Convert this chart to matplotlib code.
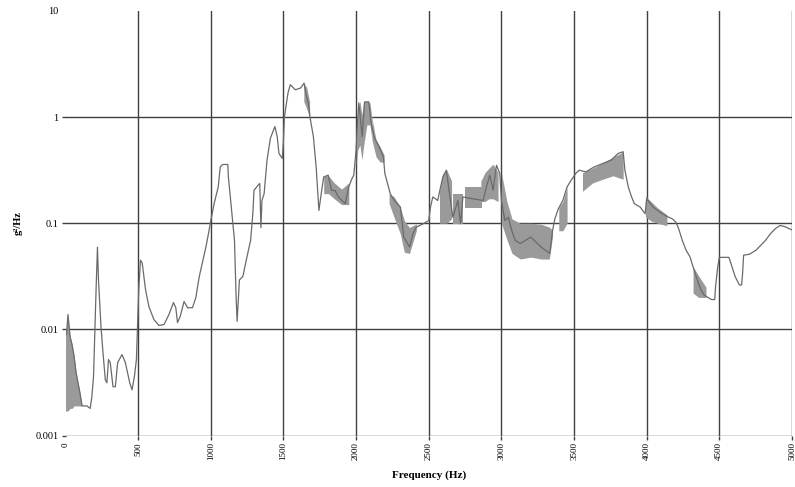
import matplotlib
matplotlib.use("Agg")
import matplotlib.pyplot as plt

# ---- main traced spectrum (Hz, g^2/Hz) ----
freq = [7, 17, 31, 45, 59, 73, 87, 100, 114, 147, 170, 181, 193, 199, 211, 220, 227, 244,
        258, 274, 285, 296, 308, 327, 343, 359, 389, 412, 442, 458, 474, 488, 497, 504, 516,
        528, 551, 574, 608, 643, 678, 712, 743, 759, 771, 789, 816, 840, 874, 897, 920, 943,
        966, 988, 1000, 1023, 1051, 1065, 1082, 1117, 1121, 1139, 1163, 1174, 1181, 1197,
        1221, 1244, 1274, 1290, 1297, 1325, 1337, 1345, 1352, 1367, 1387, 1410, 1441, 1457,
        1469, 1492, 1499, 1507, 1531, 1547, 1582, 1618, 1642, 1654, 1673, 1682, 1706, 1725,
        1737, 1744, 1760, 1777, 1808, 1831, 1855, 1878, 1902, 1926, 1949, 1972, 1984, 2000,
        2012, 2019, 2042, 2058, 2088, 2100, 2123, 2158, 2188, 2198, 2216, 2235, 2263, 2305,
        2328, 2368, 2391, 2414, 2460, 2500, 2512, 2528, 2562, 2574, 2597, 2621, 2643, 2666,
        2701, 2719, 2735, 2802, 2874, 2897, 2920, 2943, 2966, 2989, 3000, 3024, 3047, 3071,
        3095, 3130, 3202, 3273, 3333, 3352, 3368, 3392, 3423, 3452, 3480, 3511, 3535, 3581,
        3640, 3698, 3756, 3803, 3838, 3850, 3873, 3896, 3915, 3955, 3989, 4000, 4043, 4107,
        4139, 4177, 4202, 4220, 4245, 4271, 4298, 4319, 4341, 4373, 4394, 4411, 4446, 4468,
        4474, 4489, 4500, 4566, 4587, 4609, 4638, 4653, 4660, 4667, 4708, 4752, 4785, 4818,
        4851, 4884, 4917, 4950, 4982, 5000]
psd = [0.0090, 0.0138, 0.0086, 0.0072, 0.0056, 0.0039, 0.0031, 0.0025, 0.0019, 0.0019,
       0.0018, 0.0023, 0.0036, 0.0069, 0.0252, 0.0594, 0.0292, 0.0107, 0.00605, 0.00335,
       0.00314, 0.00519, 0.00486, 0.00288, 0.00288, 0.00486, 0.00579, 0.00486, 0.00314,
       0.00269, 0.00358, 0.00519, 0.0124, 0.0236, 0.0449, 0.0421, 0.0236, 0.0164, 0.0124,
       0.0109, 0.0111, 0.0138, 0.0179, 0.0160, 0.0116, 0.0132, 0.0183, 0.0160, 0.0160,
       0.0199, 0.0312, 0.0431, 0.0594, 0.0855, 0.106, 0.153, 0.220, 0.340, 0.358, 0.358,
       0.273, 0.153, 0.0690, 0.0204, 0.0119, 0.0292, 0.0316, 0.0449, 0.0690, 0.127, 0.204,
       0.228, 0.237, 0.091, 0.164, 0.190, 0.394, 0.632, 0.815, 0.655, 0.455, 0.408, 0.566,
       1.01, 1.68, 2.02, 1.81, 1.88, 2.09, 1.68, 1.31, 1.01, 0.655, 0.340, 0.190, 0.132,
       0.190, 0.273, 0.284, 0.204, 0.204, 0.177, 0.164, 0.153, 0.220, 0.264, 0.284, 0.490,
       1.01, 1.36, 0.655, 1.39, 1.39, 0.942, 0.655, 0.526, 0.423, 0.294, 0.237, 0.190,
       0.164, 0.142, 0.0741, 0.0597, 0.0796, 0.0918, 0.0986, 0.106, 0.142, 0.177, 0.164,
       0.197, 0.273, 0.316, 0.190, 0.114, 0.164, 0.0987, 0.177, 0.170, 0.164, 0.220, 0.284,
       0.204, 0.352, 0.294, 0.164, 0.106, 0.114, 0.0855, 0.0690, 0.0643, 0.0741, 0.0597,
       0.0519, 0.0855, 0.110, 0.137, 0.164, 0.220, 0.254, 0.294, 0.316, 0.305, 0.340, 0.366,
       0.394, 0.455, 0.472, 0.316, 0.220, 0.177, 0.153, 0.142, 0.123, 0.170, 0.142, 0.123,
       0.116, 0.110, 0.102, 0.0887, 0.0690, 0.0557, 0.0482, 0.0389, 0.0314, 0.0236, 0.0212,
       0.0204, 0.0191, 0.0191, 0.0254, 0.0389, 0.0477, 0.0477, 0.0389, 0.0314, 0.0262,
       0.0262, 0.0337, 0.0500, 0.0511, 0.0557, 0.0619, 0.0690, 0.0796, 0.0887, 0.0952,
       0.0931, 0.0887, 0.0867]

# ---- densely oscillating bands (frequency, lower envelope, upper envelope) ----
bands = [
    ([0, 17, 31, 45, 59, 73, 87, 100, 114],
     [0.0017, 0.0017, 0.0018, 0.0018, 0.0019, 0.0019, 0.0019, 0.0019, 0.0019],
     [0.0090, 0.0138, 0.0086, 0.0072, 0.0056, 0.0039, 0.0031, 0.0025, 0.0019]),
    ([1640, 1660, 1680], [1.4, 1.2, 1.0], [2.1, 1.9, 1.4]),
    ([1777, 1810, 1850, 1900, 1950], [0.19, 0.19, 0.17, 0.15, 0.15],
     [0.28, 0.28, 0.24, 0.21, 0.24]),
    ([2000, 2012, 2026, 2040, 2053, 2074, 2095, 2109],
     [0.352, 0.49, 0.546, 0.394, 0.546, 0.845, 0.845, 0.61],
     [0.49, 1.10, 1.42, 1.05, 1.39, 1.42, 1.36, 0.98]),
    ([2109, 2137, 2165, 2193], [0.61, 0.423, 0.377, 0.377], [0.98, 0.61, 0.526, 0.438]),
    ([2227, 2262, 2304, 2332, 2367, 2415], [0.154, 0.113, 0.0796, 0.0534, 0.0519, 0.0855],
     [0.190, 0.177, 0.142, 0.106, 0.0912, 0.0987]),
    ([2574, 2595, 2623, 2657], [0.10, 0.10, 0.10, 0.11], [0.20, 0.29, 0.32, 0.25]),
    ([2664, 2733], [0.098, 0.098], [0.19, 0.19]),
    ([2749, 2866], [0.14, 0.14], [0.22, 0.22]),
    ([2859, 2887, 2914, 2942, 2977], [0.16, 0.16, 0.17, 0.17, 0.16],
     [0.25, 0.30, 0.33, 0.36, 0.30]),
    ([3000, 3038, 3073, 3130, 3202, 3273, 3330, 3352],
     [0.10, 0.070, 0.052, 0.046, 0.048, 0.046, 0.046, 0.075],
     [0.30, 0.16, 0.11, 0.10, 0.10, 0.098, 0.092, 0.086]),
    ([3395, 3423, 3452], [0.085, 0.085, 0.10], [0.14, 0.16, 0.22]),
    ([3558, 3628, 3698, 3768, 3838], [0.20, 0.24, 0.26, 0.28, 0.26],
     [0.30, 0.33, 0.37, 0.42, 0.47]),
    ([3991, 4030, 4074, 4139], [0.115, 0.105, 0.10, 0.095], [0.18, 0.16, 0.14, 0.12]),
    ([4319, 4357, 4408], [0.022, 0.020, 0.020], [0.039, 0.032, 0.025]),
]

x_ticks = [0, 500, 1000, 1500, 2000, 2500, 3000, 3500, 4000, 4500, 5000]
y_ticks = [0.001, 0.01, 0.1, 1, 10]
y_tick_labels = ["0.001", "0.01", "0.1", "1", "10"]

fig = plt.figure(figsize=(7.95, 4.87), dpi=100)
W, H = 795, 487
ax = fig.add_axes([65.5 / W, 1 - 435.5 / H, (792 - 65.5) / W, (435.5 - 11) / H])
ax.set_yscale("log")
ax.set_xlim(0, 5000)
ax.set_ylim(0.001, 10)

grid_c = "#404040"
for f, lo, hi in bands:
    ax.fill_between(f, lo, hi, color="#9a9a9a", linewidth=0, zorder=2)
ax.plot(freq, psd, color="#6a6a6a", lw=0.9, zorder=3)

for s in ax.spines.values():
    s.set_visible(False)

ax.set_xticks(x_ticks)
ax.set_xticklabels([str(t) for t in x_ticks], rotation=90, family="Liberation Serif",
                   fontsize=6.5)
ax.set_yticks(y_ticks)
ax.set_yticklabels(y_tick_labels, family="Liberation Serif", fontsize=7.5)
ax.yaxis.set_minor_locator(matplotlib.ticker.NullLocator())
ax.tick_params(axis="both", length=3, width=1.0, color=grid_c, pad=2)

ax.grid(True, which="major", color=grid_c, lw=1.0, zorder=1)
ax.set_axisbelow(True)
ax.xaxis.get_major_ticks()[0].gridline.set_visible(False)
ax.xaxis.get_major_ticks()[0].tick1line.set_visible(False)
ax.yaxis.get_major_ticks()[-1].gridline.set_visible(False)
ax.yaxis.get_major_ticks()[-1].tick1line.set_visible(False)

ax.set_xlabel("Frequency (Hz)", family="Liberation Serif", fontsize=8,
              fontweight="bold", labelpad=7)
ax.set_ylabel("g²/Hz", family="Liberation Serif", fontsize=7.5, fontweight="bold",
              labelpad=9)

fig.savefig("out.png", dpi=100)
